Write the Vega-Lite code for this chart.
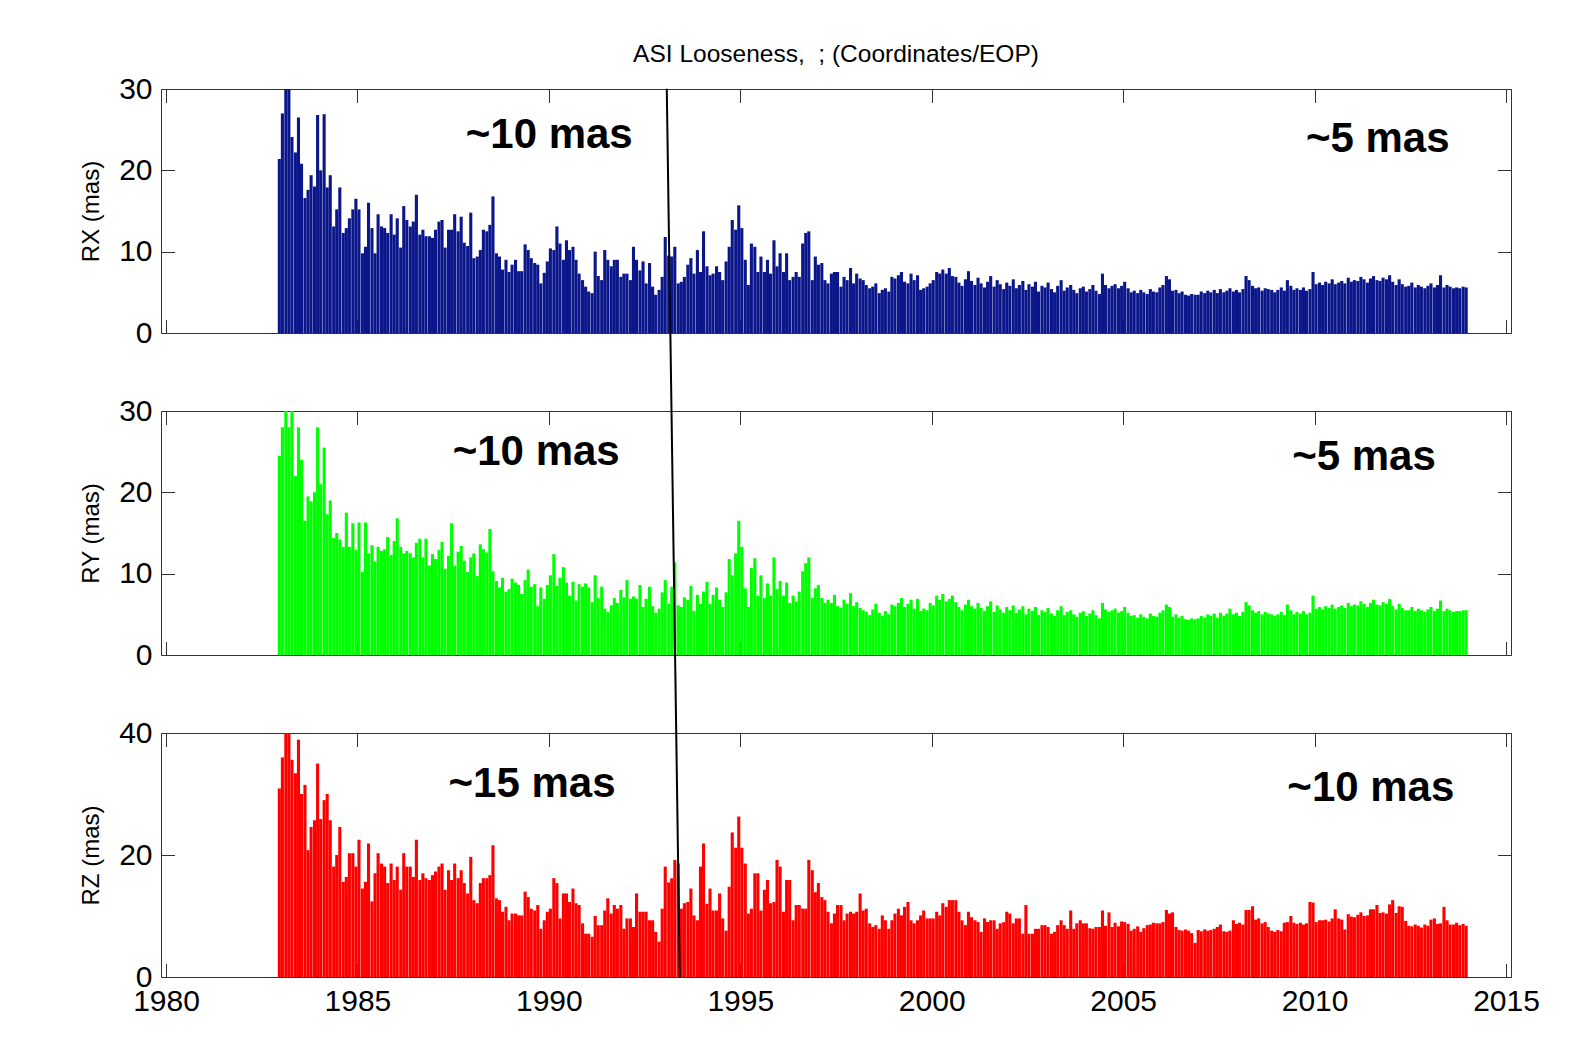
{
"$schema": "https://vega.github.io/schema/vega-lite/v6.json",
"background": "white",
"padding": {"left": 79, "top": 41, "right": 10, "bottom": 10},
"config": {
 "view": {"stroke": null},
 "font": "Liberation Sans",
 "axis": {"labelFont": "Liberation Sans", "labelFontSize": 30, "labelColor": "black", "labelFlush": false, "labelOverlap": false, "tickSize": -13.5, "tickColor": "#333", "tickWidth": 1, "domainColor": "#333", "domainWidth": 1, "grid": false, "titleFont": "Liberation Sans", "titleFontSize": 24, "titleFontWeight": "normal", "titleColor": "black"}
},
"datasets": {
 "notes": [
  {"p": "RX", "t": 1990.01, "v": 24.4, "label": "~10 mas"},
  {"p": "RX", "t": 2011.65, "v": 23.9, "label": "~5 mas"},
  {"p": "RY", "t": 1989.67, "v": 24.9, "label": "~10 mas"},
  {"p": "RY", "t": 2011.29, "v": 24.4, "label": "~5 mas"},
  {"p": "RZ", "t": 1989.56, "v": 31.7, "label": "~15 mas"},
  {"p": "RZ", "t": 2011.47, "v": 31.0, "label": "~10 mas"}
 ],
 "cut": [{"t1": 1993.42, "v1": 0, "t2": 1993.08, "v2": 145.6}],
 "rows": [
{"t":1982.96,"rx":21.4,"ry":24.5,"rz":30.9},{"t":1983.04,"rx":27.0,"ry":28.0,"rz":36.0},{"t":1983.13,"rx":30,"ry":30,"rz":40},{"t":1983.21,"rx":30,"ry":28.0,"rz":40},{"t":1983.29,"rx":24.1,"ry":30,"rz":35.6},{"t":1983.38,"rx":22.2,"ry":22.0,"rz":33.4},{"t":1983.46,"rx":26.5,"ry":28.0,"rz":38.9},{"t":1983.54,"rx":20.8,"ry":24.0,"rz":30.0},{"t":1983.63,"rx":16.6,"ry":16.5,"rz":31.5},{"t":1983.71,"rx":17.6,"ry":19.5,"rz":20.8},{"t":1983.79,"rx":19.4,"ry":18.9,"rz":24.6},{"t":1983.88,"rx":18.0,"ry":20.0,"rz":25.7},
{"t":1983.96,"rx":26.8,"ry":28.0,"rz":35.0},{"t":1984.04,"rx":20.0,"ry":21.0,"rz":25.9},{"t":1984.13,"rx":26.9,"ry":25.5,"rz":29.0},{"t":1984.21,"rx":17.9,"ry":17.3,"rz":30.0},{"t":1984.29,"rx":19.4,"ry":19.0,"rz":25.7},{"t":1984.38,"rx":13.1,"ry":14.4,"rz":18.1},{"t":1984.46,"rx":15.2,"ry":15.0,"rz":20.0},{"t":1984.54,"rx":17.9,"ry":14.2,"rz":24.6},{"t":1984.63,"rx":12.3,"ry":13.3,"rz":15.6},{"t":1984.71,"rx":12.9,"ry":17.5,"rz":16.4},{"t":1984.79,"rx":14.1,"ry":13.3,"rz":20.3},{"t":1984.88,"rx":15.2,"ry":16.2,"rz":20.3},
{"t":1984.96,"rx":16.5,"ry":12.9,"rz":18.1},{"t":1985.04,"rx":15.2,"ry":16.3,"rz":22.5},{"t":1985.13,"rx":9.8,"ry":10.2,"rz":14.5},{"t":1985.21,"rx":10.6,"ry":16.3,"rz":15.6},{"t":1985.29,"rx":16.0,"ry":12.5,"rz":21.9},{"t":1985.38,"rx":12.9,"ry":13.5,"rz":12.4},{"t":1985.46,"rx":9.8,"ry":11.5,"rz":17.0},{"t":1985.54,"rx":14.6,"ry":13.3,"rz":20.3},{"t":1985.63,"rx":13.1,"ry":12.8,"rz":18.6},{"t":1985.71,"rx":12.9,"ry":13.0,"rz":18.1},{"t":1985.79,"rx":12.3,"ry":14.5,"rz":15.4},{"t":1985.88,"rx":14.6,"ry":12.3,"rz":18.6},
{"t":1985.96,"rx":12.1,"ry":14.0,"rz":15.9},{"t":1986.04,"rx":14.1,"ry":16.8,"rz":18.1},{"t":1986.13,"rx":10.5,"ry":13.3,"rz":14.3},{"t":1986.21,"rx":15.6,"ry":12.5,"rz":20.3},{"t":1986.29,"rx":13.9,"ry":12.8,"rz":18.1},{"t":1986.38,"rx":13.1,"ry":12.5,"rz":18.1},{"t":1986.46,"rx":13.7,"ry":12.0,"rz":16.4},{"t":1986.54,"rx":17.0,"ry":13.8,"rz":22.5},{"t":1986.63,"rx":12.1,"ry":14.3,"rz":15.9},{"t":1986.71,"rx":12.7,"ry":12.0,"rz":17.0},{"t":1986.79,"rx":11.9,"ry":14.3,"rz":16.2},{"t":1986.88,"rx":11.9,"ry":11.0,"rz":15.9},
{"t":1986.96,"rx":11.7,"ry":12.4,"rz":16.7},{"t":1987.04,"rx":12.7,"ry":11.8,"rz":17.3},{"t":1987.13,"rx":13.7,"ry":12.9,"rz":18.1},{"t":1987.21,"rx":13.9,"ry":13.9,"rz":18.6},{"t":1987.29,"rx":10.5,"ry":10.6,"rz":14.3},{"t":1987.38,"rx":12.7,"ry":12.2,"rz":17.5},{"t":1987.46,"rx":12.7,"ry":16.2,"rz":15.9},{"t":1987.54,"rx":14.6,"ry":11.0,"rz":18.6},{"t":1987.63,"rx":12.5,"ry":12.7,"rz":16.2},{"t":1987.71,"rx":14.3,"ry":13.4,"rz":17.5},{"t":1987.79,"rx":11.1,"ry":11.6,"rz":15.4},{"t":1987.88,"rx":10.7,"ry":10.2,"rz":13.7},
{"t":1987.96,"rx":14.8,"ry":12.0,"rz":19.7},{"t":1988.04,"rx":9.2,"ry":12.5,"rz":12.6},{"t":1988.13,"rx":9.4,"ry":9.7,"rz":12.1},{"t":1988.21,"rx":10.2,"ry":13.6,"rz":15.4},{"t":1988.29,"rx":12.7,"ry":13.0,"rz":16.2},{"t":1988.38,"rx":12.5,"ry":12.6,"rz":16.2},{"t":1988.46,"rx":13.3,"ry":15.5,"rz":16.7},{"t":1988.54,"rx":16.8,"ry":10.3,"rz":21.6},{"t":1988.63,"rx":9.8,"ry":9.1,"rz":12.9},{"t":1988.71,"rx":9.4,"ry":8.3,"rz":12.6},{"t":1988.79,"rx":7.8,"ry":9.5,"rz":10.7},{"t":1988.88,"rx":9.0,"ry":7.8,"rz":11.5},
{"t":1988.96,"rx":7.5,"ry":8.1,"rz":9.3},{"t":1989.04,"rx":8.4,"ry":9.4,"rz":10.4},{"t":1989.13,"rx":9.0,"ry":8.9,"rz":10.4},{"t":1989.21,"rx":7.6,"ry":8.6,"rz":10.1},{"t":1989.29,"rx":7.6,"ry":7.5,"rz":10.1},{"t":1989.38,"rx":10.9,"ry":9.2,"rz":14.0},{"t":1989.46,"rx":10.2,"ry":10.5,"rz":13.1},{"t":1989.54,"rx":9.2,"ry":8.4,"rz":11.2},{"t":1989.63,"rx":8.6,"ry":8.7,"rz":10.9},{"t":1989.71,"rx":8.4,"ry":6.0,"rz":11.8},{"t":1989.79,"rx":6.1,"ry":8.3,"rz":7.9},{"t":1989.88,"rx":7.4,"ry":6.9,"rz":9.3},
{"t":1989.96,"rx":8.8,"ry":8.6,"rz":10.7},{"t":1990.04,"rx":10.4,"ry":9.8,"rz":11.2},{"t":1990.13,"rx":10.2,"ry":12.4,"rz":16.2},{"t":1990.21,"rx":13.1,"ry":8.5,"rz":15.4},{"t":1990.29,"rx":11.0,"ry":9.5,"rz":9.6},{"t":1990.38,"rx":9.0,"ry":10.8,"rz":13.7},{"t":1990.46,"rx":11.4,"ry":8.9,"rz":13.7},{"t":1990.54,"rx":10.2,"ry":7.3,"rz":12.3},{"t":1990.63,"rx":10.6,"ry":9.0,"rz":14.5},{"t":1990.71,"rx":9.0,"ry":6.7,"rz":12.1},{"t":1990.79,"rx":7.3,"ry":8.7,"rz":11.8},{"t":1990.88,"rx":6.5,"ry":8.4,"rz":8.8},
{"t":1990.96,"rx":5.7,"ry":8.8,"rz":7.1},{"t":1991.04,"rx":5.1,"ry":8.3,"rz":7.1},{"t":1991.13,"rx":4.9,"ry":6.5,"rz":6.6},{"t":1991.21,"rx":10.0,"ry":9.8,"rz":10.0},{"t":1991.29,"rx":7.0,"ry":7.0,"rz":8.5},{"t":1991.38,"rx":6.5,"ry":8.4,"rz":8.5},{"t":1991.46,"rx":10.2,"ry":5.7,"rz":10.9},{"t":1991.54,"rx":9.0,"ry":5.3,"rz":12.9},{"t":1991.63,"rx":8.2,"ry":6.1,"rz":10.4},{"t":1991.71,"rx":9.0,"ry":7.0,"rz":11.8},{"t":1991.79,"rx":9.0,"ry":6.4,"rz":11.2},{"t":1991.88,"rx":6.9,"ry":8.0,"rz":11.8},
{"t":1991.96,"rx":7.3,"ry":7.1,"rz":7.9},{"t":1992.04,"rx":7.3,"ry":9.2,"rz":9.6},{"t":1992.13,"rx":6.5,"ry":6.9,"rz":9.6},{"t":1992.21,"rx":10.6,"ry":7.2,"rz":8.2},{"t":1992.29,"rx":9.0,"ry":6.9,"rz":13.7},{"t":1992.38,"rx":7.7,"ry":8.6,"rz":10.7},{"t":1992.46,"rx":8.8,"ry":5.9,"rz":10.7},{"t":1992.54,"rx":6.1,"ry":6.9,"rz":10.7},{"t":1992.63,"rx":8.6,"ry":8.4,"rz":9.3},{"t":1992.71,"rx":5.7,"ry":6.0,"rz":9.3},{"t":1992.79,"rx":4.7,"ry":5.2,"rz":7.4},{"t":1992.88,"rx":5.3,"ry":5.7,"rz":5.8},
{"t":1992.96,"rx":6.9,"ry":7.7,"rz":11.2},{"t":1993.04,"rx":11.8,"ry":9.2,"rz":18.1},{"t":1993.13,"rx":9.5,"ry":6.3,"rz":15.5},{"t":1993.21,"rx":9.4,"ry":8.4,"rz":16.2},{"t":1993.29,"rx":10.6,"ry":11.4,"rz":19.2},{"t":1993.38,"rx":6.1,"ry":6.1,"rz":18.6},{"t":1993.46,"rx":6.3,"ry":5.9,"rz":11.2},{"t":1993.54,"rx":6.9,"ry":7.1,"rz":12.1},{"t":1993.63,"rx":8.4,"ry":6.8,"rz":12.3},{"t":1993.71,"rx":9.2,"ry":8.5,"rz":14.5},{"t":1993.79,"rx":7.3,"ry":5.4,"rz":10.1},{"t":1993.88,"rx":10.2,"ry":7.4,"rz":9.3},
{"t":1993.96,"rx":7.5,"ry":6.3,"rz":18.1},{"t":1994.04,"rx":12.5,"ry":7.8,"rz":21.9},{"t":1994.13,"rx":8.2,"ry":9.0,"rz":12.0},{"t":1994.21,"rx":7.1,"ry":6.3,"rz":14.5},{"t":1994.29,"rx":7.3,"ry":7.4,"rz":10.9},{"t":1994.38,"rx":8.2,"ry":8.3,"rz":10.9},{"t":1994.46,"rx":7.5,"ry":6.8,"rz":13.7},{"t":1994.54,"rx":6.5,"ry":5.9,"rz":9.6},{"t":1994.63,"rx":8.8,"ry":7.7,"rz":7.6},{"t":1994.71,"rx":10.6,"ry":11.8,"rz":14.8},{"t":1994.79,"rx":13.9,"ry":9.8,"rz":23.7},{"t":1994.88,"rx":12.7,"ry":12.5,"rz":21.2},
{"t":1994.96,"rx":15.7,"ry":16.5,"rz":26.3},{"t":1995.04,"rx":12.9,"ry":13.3,"rz":21.2},{"t":1995.13,"rx":9.0,"ry":8.2,"rz":18.6},{"t":1995.21,"rx":5.9,"ry":5.9,"rz":10.4},{"t":1995.29,"rx":11.0,"ry":10.7,"rz":11.2},{"t":1995.38,"rx":10.6,"ry":11.9,"rz":17.0},{"t":1995.46,"rx":7.5,"ry":7.3,"rz":17.0},{"t":1995.54,"rx":9.4,"ry":9.8,"rz":10.9},{"t":1995.63,"rx":7.5,"ry":7.0,"rz":14.3},{"t":1995.71,"rx":9.0,"ry":8.8,"rz":15.9},{"t":1995.79,"rx":7.3,"ry":7.3,"rz":12.1},{"t":1995.88,"rx":11.4,"ry":12.0,"rz":12.3},
{"t":1995.96,"rx":8.2,"ry":8.1,"rz":19.2},{"t":1996.04,"rx":9.8,"ry":9.1,"rz":18.1},{"t":1996.13,"rx":7.5,"ry":7.3,"rz":10.7},{"t":1996.21,"rx":9.8,"ry":8.9,"rz":15.9},{"t":1996.29,"rx":6.5,"ry":6.4,"rz":15.9},{"t":1996.38,"rx":6.9,"ry":7.3,"rz":9.3},{"t":1996.46,"rx":7.5,"ry":6.6,"rz":11.8},{"t":1996.54,"rx":6.9,"ry":7.8,"rz":11.8},{"t":1996.63,"rx":11.0,"ry":10.3,"rz":11.2},{"t":1996.71,"rx":12.3,"ry":11.3,"rz":11.2},{"t":1996.79,"rx":12.5,"ry":12.0,"rz":19.2},{"t":1996.88,"rx":6.5,"ry":7.0,"rz":17.5},
{"t":1996.96,"rx":9.4,"ry":8.2,"rz":13.9},{"t":1997.04,"rx":8.4,"ry":8.6,"rz":15.4},{"t":1997.13,"rx":8.6,"ry":7.0,"rz":13.1},{"t":1997.21,"rx":6.5,"ry":6.4,"rz":12.6},{"t":1997.29,"rx":6.1,"ry":6.8,"rz":10.7},{"t":1997.38,"rx":7.3,"ry":6.4,"rz":8.8},{"t":1997.46,"rx":7.5,"ry":7.4,"rz":10.4},{"t":1997.54,"rx":7.5,"ry":6.0,"rz":11.8},{"t":1997.63,"rx":5.7,"ry":5.8,"rz":11.8},{"t":1997.71,"rx":6.9,"ry":6.8,"rz":9.3},{"t":1997.79,"rx":6.5,"ry":6.3,"rz":10.4},{"t":1997.88,"rx":8.0,"ry":7.6,"rz":10.7},
{"t":1997.96,"rx":6.1,"ry":6.0,"rz":10.4},{"t":1998.04,"rx":7.3,"ry":6.5,"rz":10.7},{"t":1998.13,"rx":6.7,"ry":5.8,"rz":13.7},{"t":1998.21,"rx":6.5,"ry":5.5,"rz":10.9},{"t":1998.29,"rx":5.9,"ry":5.3,"rz":11.2},{"t":1998.38,"rx":5.5,"ry":4.9,"rz":8.8},{"t":1998.46,"rx":5.7,"ry":5.6,"rz":8.2},{"t":1998.54,"rx":6.1,"ry":6.3,"rz":8.5},{"t":1998.63,"rx":4.9,"ry":5.2,"rz":7.9},{"t":1998.71,"rx":5.3,"ry":4.8,"rz":10.1},{"t":1998.79,"rx":5.5,"ry":5.4,"rz":9.3},{"t":1998.88,"rx":5.1,"ry":5.0,"rz":7.9},
{"t":1998.96,"rx":6.9,"ry":6.2,"rz":9.3},{"t":1999.04,"rx":6.7,"ry":6.0,"rz":10.4},{"t":1999.13,"rx":7.1,"ry":6.4,"rz":11.2},{"t":1999.21,"rx":7.5,"ry":7.0,"rz":10.1},{"t":1999.29,"rx":6.3,"ry":5.9,"rz":11.5},{"t":1999.38,"rx":6.1,"ry":6.3,"rz":12.3},{"t":1999.46,"rx":7.3,"ry":6.8,"rz":9.3},{"t":1999.54,"rx":6.5,"ry":5.7,"rz":8.8},{"t":1999.63,"rx":7.1,"ry":6.9,"rz":9.3},{"t":1999.71,"rx":5.3,"ry":5.4,"rz":10.1},{"t":1999.79,"rx":5.5,"ry":5.7,"rz":10.9},{"t":1999.88,"rx":5.7,"ry":5.5,"rz":9.6},
{"t":1999.96,"rx":6.1,"ry":6.4,"rz":9.6},{"t":2000.04,"rx":6.5,"ry":6.1,"rz":9.6},{"t":2000.13,"rx":7.5,"ry":7.3,"rz":10.7},{"t":2000.21,"rx":7.3,"ry":6.8,"rz":10.1},{"t":2000.29,"rx":7.8,"ry":7.5,"rz":12.1},{"t":2000.38,"rx":7.3,"ry":6.6,"rz":11.5},{"t":2000.46,"rx":8.0,"ry":6.9,"rz":12.6},{"t":2000.54,"rx":7.0,"ry":7.3,"rz":12.6},{"t":2000.63,"rx":6.9,"ry":6.5,"rz":12.6},{"t":2000.71,"rx":6.2,"ry":5.9,"rz":10.7},{"t":2000.79,"rx":5.8,"ry":5.5,"rz":9.3},{"t":2000.88,"rx":6.6,"ry":6.2,"rz":8.5},
{"t":2000.96,"rx":7.6,"ry":6.8,"rz":10.7},{"t":2001.04,"rx":6.4,"ry":6.0,"rz":9.8},{"t":2001.13,"rx":5.9,"ry":5.7,"rz":9.3},{"t":2001.21,"rx":6.8,"ry":6.4,"rz":9.0},{"t":2001.29,"rx":6.1,"ry":5.8,"rz":7.4},{"t":2001.38,"rx":5.6,"ry":5.4,"rz":9.6},{"t":2001.46,"rx":6.3,"ry":6.0,"rz":9.0},{"t":2001.54,"rx":7.0,"ry":6.6,"rz":9.3},{"t":2001.63,"rx":5.7,"ry":5.3,"rz":9.3},{"t":2001.71,"rx":6.5,"ry":6.1,"rz":7.9},{"t":2001.79,"rx":6.0,"ry":5.6,"rz":8.8},{"t":2001.88,"rx":5.4,"ry":5.2,"rz":9.0},
{"t":2001.96,"rx":6.2,"ry":5.9,"rz":10.7},{"t":2002.04,"rx":5.8,"ry":5.5,"rz":10.4},{"t":2002.13,"rx":6.6,"ry":6.1,"rz":8.8},{"t":2002.21,"rx":5.5,"ry":5.2,"rz":9.6},{"t":2002.29,"rx":5.9,"ry":5.6,"rz":9.6},{"t":2002.38,"rx":6.4,"ry":6.0,"rz":7.1},{"t":2002.46,"rx":5.3,"ry":5.0,"rz":11.8},{"t":2002.54,"rx":6.0,"ry":5.7,"rz":7.1},{"t":2002.63,"rx":5.7,"ry":5.4,"rz":7.1},{"t":2002.71,"rx":6.3,"ry":5.9,"rz":7.9},{"t":2002.79,"rx":5.1,"ry":4.9,"rz":7.9},{"t":2002.88,"rx":5.8,"ry":5.5,"rz":8.5},
{"t":2002.96,"rx":5.6,"ry":5.3,"rz":8.5},{"t":2003.04,"rx":6.2,"ry":5.8,"rz":8.2},{"t":2003.13,"rx":5.4,"ry":5.1,"rz":7.1},{"t":2003.21,"rx":5.0,"ry":4.8,"rz":7.4},{"t":2003.29,"rx":5.8,"ry":5.5,"rz":8.5},{"t":2003.38,"rx":6.5,"ry":6.0,"rz":9.3},{"t":2003.46,"rx":5.2,"ry":4.9,"rz":8.5},{"t":2003.54,"rx":5.6,"ry":5.3,"rz":7.9},{"t":2003.63,"rx":5.9,"ry":5.5,"rz":10.9},{"t":2003.71,"rx":5.3,"ry":5.0,"rz":7.9},{"t":2003.79,"rx":4.9,"ry":4.7,"rz":8.8},{"t":2003.88,"rx":5.5,"ry":5.2,"rz":9.3},
{"t":2003.96,"rx":5.7,"ry":5.4,"rz":8.8},{"t":2004.04,"rx":5.1,"ry":4.8,"rz":8.8},{"t":2004.13,"rx":5.4,"ry":5.1,"rz":8.0},{"t":2004.21,"rx":5.9,"ry":5.5,"rz":7.9},{"t":2004.29,"rx":5.2,"ry":4.9,"rz":8.2},{"t":2004.38,"rx":4.8,"ry":4.5,"rz":8.2},{"t":2004.46,"rx":7.3,"ry":6.4,"rz":10.9},{"t":2004.54,"rx":5.9,"ry":5.6,"rz":8.4},{"t":2004.63,"rx":5.5,"ry":5.3,"rz":10.6},{"t":2004.71,"rx":5.8,"ry":5.5,"rz":8.2},{"t":2004.79,"rx":6.0,"ry":5.7,"rz":8.9},{"t":2004.88,"rx":5.5,"ry":5.2,"rz":8.3},
{"t":2004.96,"rx":5.8,"ry":5.4,"rz":9.1},{"t":2005.04,"rx":6.3,"ry":5.9,"rz":9.0},{"t":2005.13,"rx":5.5,"ry":5.2,"rz":8.7},{"t":2005.21,"rx":5.0,"ry":4.8,"rz":7.6},{"t":2005.29,"rx":5.2,"ry":4.9,"rz":7.9},{"t":2005.38,"rx":4.9,"ry":4.6,"rz":8.3},{"t":2005.46,"rx":5.3,"ry":5.0,"rz":7.4},{"t":2005.54,"rx":5.0,"ry":4.7,"rz":8.0},{"t":2005.63,"rx":4.8,"ry":4.5,"rz":8.5},{"t":2005.71,"rx":5.4,"ry":5.1,"rz":8.6},{"t":2005.79,"rx":5.1,"ry":4.8,"rz":8.9},{"t":2005.88,"rx":5.0,"ry":4.7,"rz":8.8},
{"t":2005.96,"rx":5.6,"ry":5.2,"rz":8.8},{"t":2006.04,"rx":5.9,"ry":5.5,"rz":9.0},{"t":2006.13,"rx":7.0,"ry":6.2,"rz":11.0},{"t":2006.21,"rx":6.6,"ry":5.9,"rz":10.4},{"t":2006.29,"rx":5.2,"ry":4.7,"rz":10.6},{"t":2006.38,"rx":5.3,"ry":5.0,"rz":8.2},{"t":2006.46,"rx":4.9,"ry":4.6,"rz":7.7},{"t":2006.54,"rx":5.1,"ry":4.8,"rz":7.6},{"t":2006.63,"rx":4.7,"ry":4.4,"rz":7.8},{"t":2006.71,"rx":4.6,"ry":4.3,"rz":7.6},{"t":2006.79,"rx":4.8,"ry":4.5,"rz":7.2},{"t":2006.88,"rx":4.7,"ry":4.4,"rz":5.6},
{"t":2006.96,"rx":4.7,"ry":4.5,"rz":7.7},{"t":2007.04,"rx":5.1,"ry":4.8,"rz":7.5},{"t":2007.13,"rx":4.9,"ry":4.6,"rz":7.8},{"t":2007.21,"rx":5.2,"ry":5.0,"rz":7.6},{"t":2007.29,"rx":5.0,"ry":4.8,"rz":7.7},{"t":2007.38,"rx":5.3,"ry":5.1,"rz":7.9},{"t":2007.46,"rx":4.9,"ry":4.6,"rz":8.2},{"t":2007.54,"rx":5.4,"ry":5.2,"rz":8.6},{"t":2007.63,"rx":5.0,"ry":4.8,"rz":7.5},{"t":2007.71,"rx":5.2,"ry":5.1,"rz":7.4},{"t":2007.79,"rx":5.5,"ry":5.7,"rz":7.6},{"t":2007.88,"rx":5.1,"ry":5.0,"rz":9.3},
{"t":2007.96,"rx":5.3,"ry":5.2,"rz":8.7},{"t":2008.04,"rx":5.0,"ry":4.8,"rz":8.9},{"t":2008.13,"rx":5.4,"ry":5.3,"rz":8.6},{"t":2008.21,"rx":7.0,"ry":6.5,"rz":11.0},{"t":2008.29,"rx":6.5,"ry":6.1,"rz":11.0},{"t":2008.38,"rx":5.8,"ry":5.5,"rz":11.6},{"t":2008.46,"rx":5.5,"ry":5.2,"rz":9.4},{"t":2008.54,"rx":5.6,"ry":5.4,"rz":9.6},{"t":2008.63,"rx":5.2,"ry":5.0,"rz":8.8},{"t":2008.71,"rx":5.5,"ry":5.3,"rz":9.0},{"t":2008.79,"rx":5.4,"ry":5.1,"rz":8.2},{"t":2008.88,"rx":5.3,"ry":5.0,"rz":7.6},
{"t":2008.96,"rx":5.0,"ry":4.8,"rz":7.4},{"t":2009.04,"rx":5.3,"ry":5.0,"rz":7.7},{"t":2009.13,"rx":5.6,"ry":5.3,"rz":7.5},{"t":2009.21,"rx":5.2,"ry":4.9,"rz":8.9},{"t":2009.29,"rx":6.5,"ry":6.2,"rz":9.0},{"t":2009.38,"rx":5.8,"ry":5.5,"rz":10.0},{"t":2009.46,"rx":5.3,"ry":5.0,"rz":8.9},{"t":2009.54,"rx":5.5,"ry":5.3,"rz":8.7},{"t":2009.63,"rx":5.3,"ry":5.1,"rz":8.9},{"t":2009.71,"rx":5.6,"ry":5.4,"rz":8.6},{"t":2009.79,"rx":5.2,"ry":5.0,"rz":8.8},{"t":2009.88,"rx":5.4,"ry":5.2,"rz":12.3},
{"t":2009.96,"rx":7.5,"ry":7.3,"rz":12.2},{"t":2010.04,"rx":6.0,"ry":5.7,"rz":9.0},{"t":2010.13,"rx":6.2,"ry":5.9,"rz":9.3},{"t":2010.21,"rx":5.9,"ry":5.6,"rz":9.3},{"t":2010.29,"rx":6.3,"ry":6.0,"rz":9.4},{"t":2010.38,"rx":6.1,"ry":5.8,"rz":9.1},{"t":2010.46,"rx":6.6,"ry":6.2,"rz":9.6},{"t":2010.54,"rx":6.0,"ry":5.7,"rz":11.1},{"t":2010.63,"rx":6.2,"ry":5.9,"rz":9.6},{"t":2010.71,"rx":6.4,"ry":6.1,"rz":9.4},{"t":2010.79,"rx":6.1,"ry":5.8,"rz":7.8},{"t":2010.88,"rx":6.8,"ry":6.4,"rz":10.3},
{"t":2010.96,"rx":6.3,"ry":6.0,"rz":9.9},{"t":2011.04,"rx":6.5,"ry":6.2,"rz":9.8},{"t":2011.13,"rx":6.4,"ry":6.1,"rz":10.2},{"t":2011.21,"rx":6.9,"ry":6.6,"rz":10.6},{"t":2011.29,"rx":6.6,"ry":6.3,"rz":10.0},{"t":2011.38,"rx":6.2,"ry":5.9,"rz":10.1},{"t":2011.46,"rx":6.7,"ry":6.4,"rz":11.1},{"t":2011.54,"rx":7.0,"ry":6.8,"rz":11.1},{"t":2011.63,"rx":6.5,"ry":6.2,"rz":11.8},{"t":2011.71,"rx":6.4,"ry":6.1,"rz":10.5},{"t":2011.79,"rx":6.8,"ry":6.5,"rz":10.6},{"t":2011.88,"rx":6.6,"ry":6.3,"rz":10.4},
{"t":2011.96,"rx":7.1,"ry":6.9,"rz":11.9},{"t":2012.04,"rx":6.3,"ry":6.0,"rz":12.6},{"t":2012.13,"rx":5.9,"ry":5.6,"rz":10.5},{"t":2012.21,"rx":6.6,"ry":6.3,"rz":11.6},{"t":2012.29,"rx":6.0,"ry":5.8,"rz":11.5},{"t":2012.38,"rx":5.7,"ry":5.5,"rz":9.2},{"t":2012.46,"rx":5.8,"ry":5.5,"rz":8.4},{"t":2012.54,"rx":6.2,"ry":5.9,"rz":8.3},{"t":2012.63,"rx":5.6,"ry":5.4,"rz":8.6},{"t":2012.71,"rx":5.9,"ry":5.7,"rz":8.4},{"t":2012.79,"rx":5.7,"ry":5.5,"rz":8.1},{"t":2012.88,"rx":5.5,"ry":5.3,"rz":8.6},
{"t":2012.96,"rx":5.8,"ry":5.6,"rz":8.4},{"t":2013.04,"rx":6.1,"ry":5.9,"rz":9.4},{"t":2013.13,"rx":5.6,"ry":5.4,"rz":9.6},{"t":2013.21,"rx":5.9,"ry":5.7,"rz":8.7},{"t":2013.29,"rx":7.1,"ry":6.7,"rz":8.8},{"t":2013.38,"rx":5.6,"ry":5.4,"rz":11.5},{"t":2013.46,"rx":5.9,"ry":5.7,"rz":9.3},{"t":2013.54,"rx":5.7,"ry":5.5,"rz":8.6},{"t":2013.63,"rx":5.5,"ry":5.3,"rz":8.6},{"t":2013.71,"rx":5.6,"ry":5.4,"rz":8.9},{"t":2013.79,"rx":5.5,"ry":5.4,"rz":8.5},{"t":2013.88,"rx":5.7,"ry":5.5,"rz":8.7},
{"t":2013.96,"rx":5.6,"ry":5.5,"rz":8.4}
 ]
},
"spacing": 78,
"bounds": "flush",
"vconcat": [
 {
  "width": 1350, "height": 244,
  "title": {"text": "ASI Looseness, \u00a0; (Coordinates/EOP)", "font": "Liberation Sans", "fontSize": 24.5, "fontWeight": "normal", "color": "black", "anchor": "middle", "frame": "group", "baseline": "bottom", "offset": -17},
  "layer": [
   {"data": {"name": "rows"}, "mark": {"type": "bar", "color": "#0a168a", "size": 3.1},
    "encoding": {
     "x": {"field": "t", "type": "quantitative", "scale": {"domain": [1980, 2015], "nice": false, "zero": false}, "axis": {"orient": "bottom", "values": [1980,1985,1990,1995,2000,2005,2010,2015], "labels": false, "title": null}},
     "y": {"field": "rx", "type": "quantitative", "scale": {"domain": [0, 30], "nice": false}, "axis": {"orient": "left", "values": [0,10,20,30], "title": "RX (mas)", "titleX": -69.5, "titleY": 122, "titleAngle": -90, "titleAlign": "center", "titleBaseline": "middle", "labelPadding": 22.5}}
    }},
   {"data": {"name": "notes"}, "transform": [{"filter": "datum.p == 'RX'"}],
    "mark": {"type": "text", "font": "Liberation Sans", "fontSize": 42, "fontWeight": "bold", "color": "black", "align": "center", "baseline": "middle"},
    "encoding": {
     "x": {"field": "t", "type": "quantitative", "scale": {"domain": [1980, 2015], "nice": false, "zero": false}, "axis": {"orient": "top", "values": [1980,1985,1990,1995,2000,2005,2010,2015], "labels": false, "title": null}},
     "y": {"field": "v", "type": "quantitative", "scale": {"domain": [0, 30], "nice": false}, "axis": {"orient": "right", "values": [0,10,20,30], "labels": false, "title": null}},
     "text": {"field": "label"}
    }}
  ],
  "resolve": {"axis": {"x": "independent", "y": "independent"}}
 },
 {
  "width": 1350, "height": 244,
  "layer": [
   {"data": {"name": "rows"}, "mark": {"type": "bar", "color": "#00ff00", "size": 3.1},
    "encoding": {
     "x": {"field": "t", "type": "quantitative", "scale": {"domain": [1980, 2015], "nice": false, "zero": false}, "axis": {"orient": "bottom", "values": [1980,1985,1990,1995,2000,2005,2010,2015], "labels": false, "title": null}},
     "y": {"field": "ry", "type": "quantitative", "scale": {"domain": [0, 30], "nice": false}, "axis": {"orient": "left", "values": [0,10,20,30], "title": "RY (mas)", "titleX": -69.5, "titleY": 122, "titleAngle": -90, "titleAlign": "center", "titleBaseline": "middle", "labelPadding": 22.5}}
    }},
   {"data": {"name": "notes"}, "transform": [{"filter": "datum.p == 'RY'"}],
    "mark": {"type": "text", "font": "Liberation Sans", "fontSize": 42, "fontWeight": "bold", "color": "black", "align": "center", "baseline": "middle"},
    "encoding": {
     "x": {"field": "t", "type": "quantitative", "scale": {"domain": [1980, 2015], "nice": false, "zero": false}, "axis": {"orient": "top", "values": [1980,1985,1990,1995,2000,2005,2010,2015], "labels": false, "title": null}},
     "y": {"field": "v", "type": "quantitative", "scale": {"domain": [0, 30], "nice": false}, "axis": {"orient": "right", "values": [0,10,20,30], "labels": false, "title": null}},
     "text": {"field": "label"}
    }}
  ],
  "resolve": {"axis": {"x": "independent", "y": "independent"}}
 },
 {
  "width": 1350, "height": 244,
  "layer": [
   {"data": {"name": "rows"}, "mark": {"type": "bar", "color": "#ff0000", "size": 3.1},
    "encoding": {
     "x": {"field": "t", "type": "quantitative", "scale": {"domain": [1980, 2015], "nice": false, "zero": false}, "axis": {"orient": "bottom", "values": [1980,1985,1990,1995,2000,2005,2010,2015], "format": "d", "title": null, "labelPadding": 22.5}},
     "y": {"field": "rz", "type": "quantitative", "scale": {"domain": [0, 40], "nice": false}, "axis": {"orient": "left", "values": [0,20,40], "title": "RZ (mas)", "titleX": -69.5, "titleY": 122, "titleAngle": -90, "titleAlign": "center", "titleBaseline": "middle", "labelPadding": 22.5}}
    }},
   {"data": {"name": "notes"}, "transform": [{"filter": "datum.p == 'RZ'"}],
    "mark": {"type": "text", "font": "Liberation Sans", "fontSize": 42, "fontWeight": "bold", "color": "black", "align": "center", "baseline": "middle"},
    "encoding": {
     "x": {"field": "t", "type": "quantitative", "scale": {"domain": [1980, 2015], "nice": false, "zero": false}, "axis": {"orient": "top", "values": [1980,1985,1990,1995,2000,2005,2010,2015], "labels": false, "title": null}},
     "y": {"field": "v", "type": "quantitative", "scale": {"domain": [0, 40], "nice": false}, "axis": {"orient": "right", "values": [0,20,40], "labels": false, "title": null}},
     "text": {"field": "label"}
    }},
   {"data": {"name": "cut"},
    "mark": {"type": "rule", "color": "black", "strokeWidth": 2, "clip": false},
    "encoding": {
     "x": {"field": "t1", "type": "quantitative", "scale": {"domain": [1980, 2015], "nice": false, "zero": false}, "axis": null},
     "x2": {"field": "t2"},
     "y": {"field": "v1", "type": "quantitative", "scale": {"domain": [0, 40], "nice": false}, "axis": null},
     "y2": {"field": "v2"}
    }}
  ],
  "resolve": {"axis": {"x": "independent", "y": "independent"}}
 }
]
}
